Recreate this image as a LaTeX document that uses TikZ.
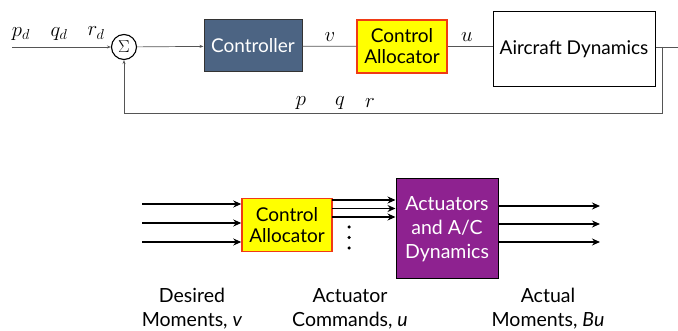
\documentclass[tikz,border=0pt]{standalone}
\usepackage{fontspec}
\setsansfont{Lato}
\usetikzlibrary{arrows.meta}
\definecolor{ctrlblue}{HTML}{4C6483}
\definecolor{allocyellow}{HTML}{FFFF00}
\definecolor{allocred}{HTML}{F03A14}
\definecolor{actpurple}{HTML}{8E2290}
\definecolor{linegray}{HTML}{555555}
\tikzset{
  blockbox/.style={draw=black, line width=1pt, minimum width=#1, inner sep=0pt, align=center, font=\sffamily\fontsize{19}{21}\selectfont},
  ctrlbox/.style={blockbox=98pt, fill=ctrlblue, text=white, minimum height=52pt, draw=black!80},
  allocbox/.style={blockbox=90pt, fill=allocyellow, draw=allocred, line width=1.5pt, minimum height=53pt},
  dynbox/.style={blockbox=162pt, fill=white, minimum height=75pt},
  actbox/.style={blockbox=102pt, fill=actpurple, text=white, minimum height=100pt, font=\sffamily\fontsize{19.5}{24}\selectfont},
  sig/.style={draw=linegray, line width=0.7pt},
  sigarr/.style={sig, -{Stealth[length=4pt,width=3pt]}},
  bus/.style={draw=black, line width=1.4pt, -{Stealth[length=8pt,width=7pt]}},
  lbl/.style={font=\fontsize{20}{22}\selectfont},
  caption/.style={align=center, font=\sffamily\fontsize{19.5}{24}\selectfont},
  sumnode/.style={circle, draw=black, line width=1.1pt, minimum size=25pt, inner sep=0pt, font=\fontsize{17}{18}\selectfont},
  dotmark/.style={circle, fill=black, inner sep=0pt, minimum size=3.5pt}
}
\begin{document}
\begin{tikzpicture}[x=1pt,y=-1pt]
\useasboundingbox (0,0) rectangle (678,331);
% ---------- top loop ----------
\coordinate (in) at (12,47);
\node[sumnode] (sum) at (124,47) {$\Sigma$};
\node[ctrlbox] (ctrl) at (253,46) {Controller};
\node[allocbox] (alloc) at (402,46.5) {Control\\Allocator};
\node[dynbox] (dyn) at (574,49.5) {Aircraft Dynamics};
\coordinate (out) at (678,47);
\coordinate (fbR) at (662,113);
\coordinate (fbL) at (124,113);

\draw[sigarr] (in) -- (sum);
\draw[sigarr] (sum) -- (ctrl);
\draw[sig] (ctrl) -- (alloc);
\draw[sig] (alloc) -- (alloc -| dyn.west);
\draw[sig] (dyn.east |- out) -- (out);
\draw[sig] (662,47) -- (fbR) -- (fbL);
\draw[sigarr] (fbL) -- (sum.south);

\node[lbl] (pd) at (21,34) {$p_d$};
\node[lbl] (qd) at (59,34) {$q_d$};
\node[lbl] (rd) at (96,33) {$r_d$};
\node[lbl] (v) at (330,37) {$v$};
\node[lbl] (u) at (467,37) {$u$};
\node[lbl] (p) at (301,103) {$p$};
\node[lbl] (q) at (340,103) {$q$};
\node[lbl] (r) at (370,103) {$r$};

% ---------- bottom ----------
\node[allocbox] (alloc2) at (287,225) {Control\\Allocator};
\node[actbox] (act) at (447,229) {Actuators\\and A/C\\Dynamics};

\foreach \y/\n in {204/a,223/b,242/c}{
  \coordinate (vin\n) at (142,\y);
  \draw[bus] (vin\n) -- (vin\n -| alloc2.west);
}
\foreach \y/\n in {200/a,208.5/b,217/c}{
  \coordinate (uc\n) at (332,\y);
  \draw[bus] (uc\n) -- (uc\n -| act.west);
}
\foreach \y/\n in {206/a,224/b,242/c}{
  \coordinate (bo\n) at (600,\y);
  \draw[bus] (bo\n -| act.east) -- (bo\n);
}
\node[dotmark] (d1) at (349,227) {};
\node[dotmark] (d2) at (349,237.5) {};
\node[dotmark] (d3) at (349,248) {};

\node[caption] (c1) at (192,309) {Desired\\Moments, \textit{v}};
\node[caption] (c2) at (350,309) {Actuator\\Commands, \textit{u}};
\node[caption] (c3) at (548,309) {Actual\\Moments, \textit{Bu}};
\end{tikzpicture}
\end{document}
